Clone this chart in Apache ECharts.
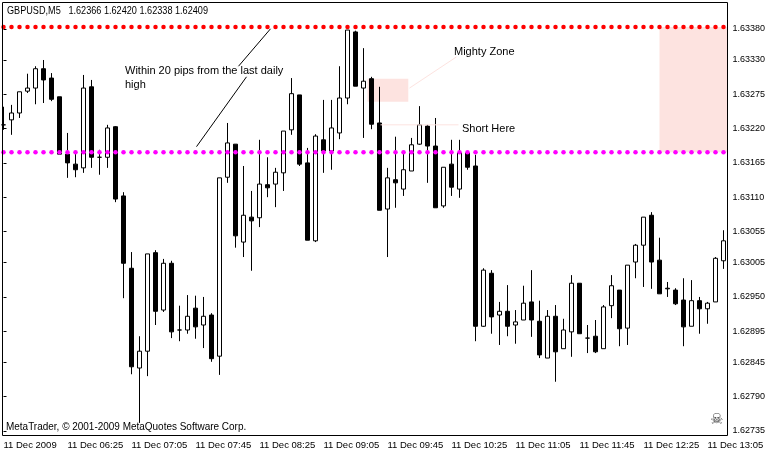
<!DOCTYPE html>
<html>
<head>
<meta charset="utf-8">
<style>
  html, body { margin: 0; padding: 0; background: #fff; }
  #main { width: 765px; height: 452px; }
</style>
<script src="https://cdn.jsdelivr.net/npm/echarts@6/dist/echarts.min.js"></script>
</head>
<body>
<div id="main"></div>
<script>
const opens = [
  1.63226, 1.63234, 1.63245, 1.63280, 1.63285, 1.63316, 1.63301, 1.63271, 1.63179, 1.63163,
  1.63157, 1.63287, 1.63174, 1.63174, 1.63223, 1.63112, 1.62996, 1.62836, 1.62863, 1.63021,
  1.62929, 1.63004, 1.62897, 1.62897, 1.62932, 1.62905, 1.62921, 1.62855, 1.63142, 1.63195,
  1.63038, 1.63078, 1.63077, 1.63130, 1.63131, 1.63149, 1.63218, 1.63274, 1.63165, 1.63040,
  1.63202, 1.63184, 1.63213, 1.63269, 1.63375, 1.63285, 1.63300, 1.63229, 1.63091, 1.63138,
  1.63123, 1.63152, 1.63195, 1.63224, 1.63192, 1.63096, 1.63163, 1.63123, 1.63181, 1.63160,
  1.62903, 1.62988, 1.62921, 1.62927, 1.62905, 1.62913, 1.62942, 1.62911, 1.62852, 1.62919,
  1.62867, 1.62894, 1.62972, 1.62884, 1.62887, 1.62867, 1.62936, 1.62961, 1.62900, 1.63006,
  1.63033, 1.63081, 1.63009, 1.62964, 1.62961, 1.62945, 1.62903, 1.62944, 1.62931, 1.62942,
  1.63008
]
const closes = [
  1.63226, 1.63245, 1.63279, 1.63285, 1.63316, 1.63298, 1.63267, 1.63179, 1.63165, 1.63154,
  1.63285, 1.63174, 1.63174, 1.63221, 1.63107, 1.63004, 1.62838, 1.62863, 1.63019, 1.62927,
  1.63004, 1.62894, 1.62897, 1.62919, 1.62902, 1.62919, 1.62851, 1.63141, 1.63197, 1.63048,
  1.63081, 1.63072, 1.63131, 1.63125, 1.63150, 1.63216, 1.63276, 1.63163, 1.63041, 1.63208,
  1.63184, 1.63221, 1.63269, 1.63378, 1.63288, 1.63296, 1.63227, 1.63089, 1.63141, 1.63133,
  1.63154, 1.63194, 1.63226, 1.63192, 1.63093, 1.63158, 1.63126, 1.63181, 1.63158, 1.62903,
  1.62993, 1.62918, 1.62927, 1.62903, 1.62910, 1.62940, 1.62913, 1.62857, 1.62919, 1.62862,
  1.62897, 1.62972, 1.62891, 1.62884, 1.62862, 1.62934, 1.62968, 1.62899, 1.63001, 1.63033,
  1.63078, 1.63006, 1.62955, 1.62963, 1.62939, 1.62902, 1.62944, 1.62931, 1.62940, 1.63012,
  1.63040
]
const lows = [
  1.63218, 1.63210, 1.63237, 1.63277, 1.63259, 1.63261, 1.63264, 1.63179, 1.63141, 1.63142,
  1.63149, 1.63157, 1.63146, 1.63157, 1.63102, 1.62948, 1.62826, 1.62748, 1.62823, 1.62905,
  1.62926, 1.62884, 1.62879, 1.62891, 1.62883, 1.62868, 1.62846, 1.62825, 1.63133, 1.63029,
  1.63014, 1.62992, 1.63062, 1.63110, 1.63094, 1.63120, 1.63210, 1.63160, 1.63041, 1.63038,
  1.63149, 1.63154, 1.63203, 1.63259, 1.63288, 1.63205, 1.63219, 1.63089, 1.63014, 1.63093,
  1.63112, 1.63152, 1.63194, 1.63133, 1.63093, 1.63093, 1.63112, 1.63109, 1.63154, 1.62879,
  1.62902, 1.62891, 1.62873, 1.62887, 1.62875, 1.62913, 1.62886, 1.62852, 1.62852, 1.62814,
  1.62867, 1.62854, 1.62891, 1.62860, 1.62860, 1.62867, 1.62916, 1.62871, 1.62873, 1.62980,
  1.62966, 1.62963, 1.62955, 1.62950, 1.62937, 1.62871, 1.62903, 1.62891, 1.62907, 1.62942,
  1.62995
]
const highs = [
  1.63255, 1.63258, 1.63279, 1.63308, 1.63320, 1.63330, 1.63309, 1.63271, 1.63213, 1.63181,
  1.63306, 1.63298, 1.63186, 1.63226, 1.63224, 1.63118, 1.63022, 1.62887, 1.63019, 1.63025,
  1.63011, 1.63008, 1.62936, 1.62953, 1.62952, 1.62950, 1.62924, 1.63141, 1.63229, 1.63195,
  1.63160, 1.63120, 1.63202, 1.63174, 1.63157, 1.63216, 1.63301, 1.63274, 1.63189, 1.63211,
  1.63266, 1.63266, 1.63320, 1.63378, 1.63377, 1.63349, 1.63303, 1.63287, 1.63157, 1.63207,
  1.63181, 1.63205, 1.63256, 1.63226, 1.63237, 1.63158, 1.63202, 1.63202, 1.63184, 1.63178,
  1.62996, 1.62993, 1.62942, 1.62969, 1.62929, 1.62968, 1.62993, 1.62944, 1.62929, 1.62937,
  1.62915, 1.62985, 1.62972, 1.62905, 1.62913, 1.62937, 1.62985, 1.62961, 1.63001, 1.63035,
  1.63078, 1.63086, 1.63045, 1.62974, 1.62964, 1.62980, 1.62977, 1.62950, 1.62942, 1.63014,
  1.63057
]
const timeLabels = [
  '11 Dec 2009', '11 Dec 06:25', '11 Dec 07:05', '11 Dec 07:45', '11 Dec 08:25', '11 Dec 09:05',
  '11 Dec 09:45', '11 Dec 10:25', '11 Dec 11:05', '11 Dec 11:45', '11 Dec 12:25', '11 Dec 13:05'
]
const priceTicks = [
  1.63380, 1.63330, 1.63275, 1.63220, 1.63165, 1.63110, 1.63055,
  1.63005, 1.62950, 1.62895, 1.62845, 1.62790, 1.62735
]
const dailyHigh = 1.63383
const lastLevel = 1.63182
// drawn objects, [bar, price] pairs (bars can be fractional)
const blackLines = [
  [[33.375, 1.63380], [29.375, 1.63320]],
  [[30.375, 1.63303], [24.125, 1.63191]]
]
const paleLines = [
  [[50.75, 1.63285], [56.625, 1.63335]],
  [[47.125, 1.63226], [56.875, 1.63226]]
]
const zones = [
  [[45.5, 1.63300], [50.6, 1.63263]],
  [[82, dailyHigh], [90.5, lastLevel]]
]

const barCount = opens.length
const barSpacing = 8
const categories = opens.map((_, i) => String(i))
const candles = opens.map((o, i) => [o, closes[i], lows[i], highs[i]])
const chartFont = '"Liberation Sans", sans-serif'

const levelSeries = (value, color) => ({
  type: 'line',
  data: categories.map(() => value),
  symbol: 'circle',
  symbolSize: 4.5,
  showSymbol: true,
  showAllSymbols: true,
  lineStyle: { opacity: 0 },
  itemStyle: { color: color, opacity: 1 },
  silent: true,
  z: 5,
  animation: false,
})

const drawnLine = (points, color) => ({
  type: 'line',
  xAxisIndex: 1,
  data: points,
  symbol: 'none',
  lineStyle: { color: color, width: 1 },
  silent: true,
  z: 6,
  animation: false,
})

// scaleX squeezes the text to the narrow width of the terminal font
const chartText = (text, left, top, extra, scaleX) => ({
  type: 'text',
  x: left,
  y: top,
  scaleX: scaleX || 1,
  z: 10,
  style: Object.assign({ text: text, fill: '#000', font: '11px ' + chartFont }, extra),
})

const chart = echarts.init(document.getElementById('main'), null, { renderer: 'canvas' })
chart.setOption({
  animation: false,
  backgroundColor: '#fff',
  grid: {
    left: -0.5,
    top: 2,
    width: barCount * barSpacing,
    height: 433,
    show: false,
    outerBoundsMode: 'none',
  },
  xAxis: [
    {
      type: 'category',
      data: categories,
      boundaryGap: true,
      axisLine: { show: false },
      axisTick: { alignWithLabel: true, interval: 7, length: 3, lineStyle: { color: '#000' } },
      axisLabel: {
        interval: 7,
        align: 'left',
        margin: 5,
        color: '#000',
        fontFamily: chartFont,
        fontSize: 9.5,
        hideOverlap: false,
        formatter: (value, index) => timeLabels[index / 8],
      },
      splitLine: { show: false },
    },
    { type: 'value', min: -0.5, max: barCount - 0.5, show: false },
  ],
  yAxis: {
    type: 'value',
    position: 'right',
    min: 1.627286,
    max: 1.63423,
    axisLine: { show: false },
    axisTick: { show: true, length: 3, lineStyle: { color: '#000' }, customValues: priceTicks },
    axisLabel: {
      color: '#000',
      margin: 5,
      fontFamily: chartFont,
      fontSize: 9,
      customValues: priceTicks,
      formatter: (v) => v.toFixed(5),
    },
    splitLine: { show: false },
  },
  series: [
    {
      type: 'line',
      xAxisIndex: 1,
      data: [],
      silent: true,
      z: 1,
      markArea: {
        silent: true,
        itemStyle: { color: '#fde3e0' },
        data: zones.map(([a, b]) => [
          { xAxis: a[0], yAxis: a[1] },
          { xAxis: b[0], yAxis: b[1] },
        ]),
      },
    },
    {
      type: 'candlestick',
      data: candles,
      barWidth: 4,
      z: 3,
      itemStyle: {
        color: '#fff',
        color0: '#000',
        borderColor: '#000',
        borderColor0: '#000',
        borderWidth: 1,
      },
    },
    levelSeries(dailyHigh, '#ff0000'),
    levelSeries(lastLevel, '#ff00ff'),
    ...blackLines.map((p) => drawnLine(p, '#000')),
    ...paleLines.map((p) => drawnLine(p, '#fde3e0')),
  ],
  graphic: [
    {
      type: 'rect',
      z: 9,
      silent: true,
      shape: { x: 2.5, y: 2.5, width: 725, height: 433 },
      style: { fill: 'none', stroke: '#000', lineWidth: 1 },
    },
    chartText('GBPUSD,M5   1.62366 1.62420 1.62338 1.62409', 7, 5, null, 0.83),
    chartText('Within 20 pips from the last daily', 125, 65),
    chartText('high', 125, 79),
    chartText('Mighty Zone', 454, 46),
    chartText('Short Here', 462, 123),
    chartText('MetaTrader, © 2001-2009 MetaQuotes Software Corp.', 6, 421, null, 0.906),
    chartText('☠', 710, 413, { fill: '#444', font: '15px "DejaVu Sans"' }),
  ],
})
</script>
</body>
</html>
